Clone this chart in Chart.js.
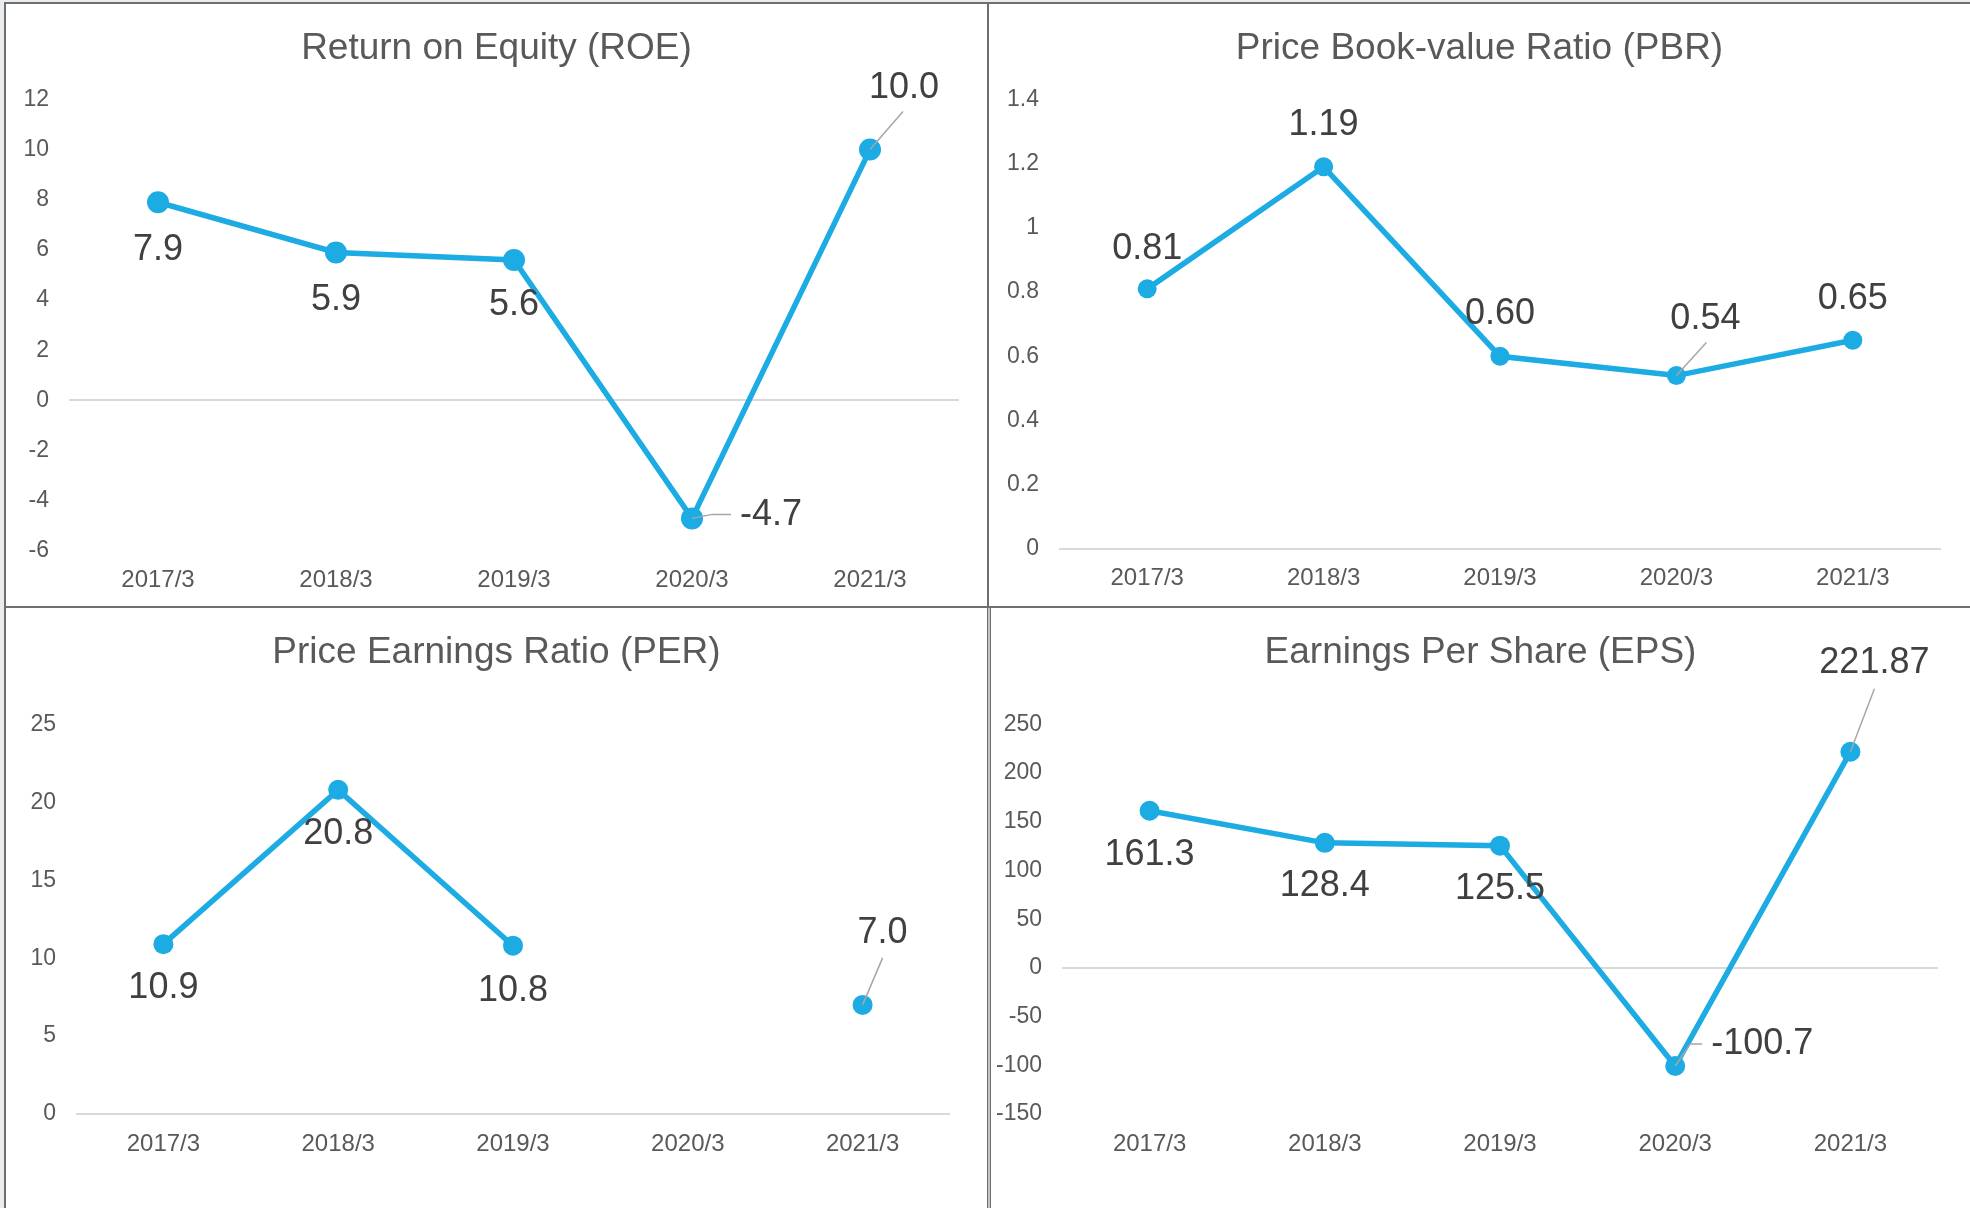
<!DOCTYPE html>
<html>
<head>
<meta charset="utf-8">
<script src="https://cdn.jsdelivr.net/npm/chart.js@4.4.1/dist/chart.umd.min.js"></script>
<style>
  html, body { margin: 0; padding: 0; }
  body { width: 1970px; height: 1208px; background: #e9edf0; position: relative; overflow: hidden; font-family: "Liberation Sans", Arial, sans-serif; }
  .sheet { position: absolute; left: 4px; top: 2px; right: 0; bottom: 0; background: #fff; }
  .rule { position: absolute; background: #6e6e6e; }
  .box { position: absolute; }
</style>
</head>
<body>
<div class="sheet"></div>
<div class="rule" style="left:4px;top:2px;width:2px;height:1206px"></div>
<div class="rule" style="left:4px;top:2px;width:1966px;height:2px"></div>
<div class="rule" style="left:987px;top:2px;width:2px;height:605px"></div>
<div class="rule" style="left:4px;top:606px;width:1966px;height:2px"></div>
<div class="rule" style="left:987px;top:606px;width:1px;height:602px"></div>
<div class="rule" style="left:988px;top:608px;width:2px;height:600px;background:#c4c4c4"></div>
<div class="rule" style="left:990px;top:606px;width:1px;height:602px"></div>

<div class="box" style="left:6px;top:4px;width:981px;height:602px"><canvas id="roeChart"></canvas></div>
<div class="box" style="left:989px;top:4px;width:981px;height:602px"><canvas id="pbrChart"></canvas></div>
<div class="box" style="left:6px;top:608px;width:981px;height:600px"><canvas id="perChart"></canvas></div>
<div class="box" style="left:991px;top:608px;width:979px;height:600px"><canvas id="epsChart"></canvas></div>

<script>
const categories = ['2017/3', '2018/3', '2019/3', '2020/3', '2021/3'];

const roeValues = [7.9, 5.9, 5.6, -4.7, 10.0];
const pbrValues = [0.81, 1.19, 0.60, 0.54, 0.65];
const perValues = [10.9, 20.8, 10.8, null, 7.0];
const epsValues = [161.3, 128.4, 125.5, -100.7, 221.87];

const roeTicks = [-6, -4, -2, 0, 2, 4, 6, 8, 10, 12];
const pbrTicks = [0, 0.2, 0.4, 0.6, 0.8, 1, 1.2, 1.4];
const perTicks = [0, 5, 10, 15, 20, 25];
const epsTicks = [-150, -100, -50, 0, 50, 100, 150, 200, 250];

const LINE_COLOR = '#1cabe2';
const FONT = '"Liberation Sans", Arial, sans-serif';

// draws the value labels and the little grey leader lines
const valueLabels = {
  id: 'valueLabels',
  afterDatasetsDraw(chart, args, opts) {
    const ctx = chart.ctx;
    const meta = chart.getDatasetMeta(0);
    const data = chart.data.datasets[0].data;
    ctx.save();
    meta.data.forEach((pt, i) => {
      const v = data[i];
      if (v === null || v === undefined) return;
      const lead = opts.leaders[i];
      if (lead) {
        ctx.strokeStyle = '#a6a6a6';
        ctx.lineWidth = 1.5;
        ctx.beginPath();
        ctx.moveTo(pt.x, pt.y);
        lead.forEach(p => ctx.lineTo(pt.x + p[0], pt.y + p[1]));
        ctx.stroke();
      }
      const off = opts.offsets[i];
      ctx.fillStyle = '#404040';
      ctx.font = '36px ' + FONT;
      ctx.textAlign = 'center';
      ctx.textBaseline = 'middle';
      ctx.fillText(opts.format(v), pt.x + off[0], pt.y + off[1]);
    });
    ctx.restore();
  }
};

function buildChart(id, cfg) {
  const ctx = document.getElementById(id).getContext('2d');
  const ticks = cfg.ticks;
  return new Chart(ctx, {
    type: 'line',
    data: {
      labels: categories,
      datasets: [{
        data: cfg.values,
        borderColor: LINE_COLOR,
        backgroundColor: LINE_COLOR,
        borderWidth: 5.5,
        pointRadius: cfg.pointRadius,
        pointBorderWidth: 0,
        pointBackgroundColor: LINE_COLOR,
        tension: 0,
        spanGaps: false
      }]
    },
    options: {
      responsive: true,
      maintainAspectRatio: false,
      animation: false,
      layout: { padding: 0 },
      plugins: {
        legend: { display: false },
        tooltip: { enabled: false },
        title: {
          display: true,
          text: cfg.title,
          color: '#595959',
          font: { family: FONT, size: 37, weight: 'normal' },
          padding: { top: cfg.titleTop, bottom: cfg.titleBottom }
        },
        valueLabels: {
          format: cfg.format,
          offsets: cfg.offsets,
          leaders: cfg.leaders
        }
      },
      scales: {
        x: {
          offset: true,
          grid: { display: false },
          border: { display: false },
          ticks: { color: '#595959', font: { family: FONT, size: 24 }, padding: cfg.xPad, maxRotation: 0 },
          afterFit: s => { s.height = cfg.xHeight; }
        },
        y: {
          min: ticks[0],
          max: ticks[ticks.length - 1],
          border: { display: false },
          grid: {
            drawTicks: false,
            lineWidth: 2,
            color: c => (c.tick && c.tick.value === 0) ? '#d9d9d9' : 'rgba(0,0,0,0)'
          },
          ticks: {
            stepSize: ticks[1] - ticks[0],
            color: '#595959',
            font: { family: FONT, size: 23 },
            padding: 20,
            callback: v => String(Math.round(v * 100) / 100)
          },
          afterFit: s => { s.width = cfg.yWidth; }
        },
        // empty right-hand axis: keeps the plot off the right edge, title stays centred
        yRight: {
          position: 'right',
          border: { display: false },
          grid: { display: false },
          ticks: { display: false },
          afterFit: s => { s.width = cfg.padRight; }
        }
      }
    },
    plugins: [valueLabels]
  });
}

buildChart('roeChart', {
  title: 'Return on Equity (ROE)',
  values: roeValues,
  ticks: roeTicks,
  pointRadius: 11,
  format: v => v.toFixed(1),
  offsets: [[0, 48], [0, 48], [0, 45], [79, -3], [34, -61]],
  leaders: [null, null, null, [[20, -4], [39, -4]], [[33, -38]]],
  padRight: 28, yWidth: 63, titleTop: 23, titleBottom: 28, xHeight: 55, xPad: 6.5
});

buildChart('pbrChart', {
  title: 'Price Book-value Ratio (PBR)',
  values: pbrValues,
  ticks: pbrTicks,
  pointRadius: 9.5,
  format: v => v.toFixed(2),
  offsets: [[0, -40], [0, -42], [0, -42], [29, -57], [0, -41]],
  leaders: [null, null, null, [[30, -33]], null],
  padRight: 29, yWidth: 70, titleTop: 23, titleBottom: 28, xHeight: 57, xPad: 6.5
});

buildChart('perChart', {
  title: 'Price Earnings Ratio (PER)',
  values: perValues,
  ticks: perTicks,
  pointRadius: 10,
  format: v => v.toFixed(1),
  offsets: [[0, 44], [0, 44], [0, 45], [0, 0], [20, -72]],
  leaders: [null, null, null, null, [[20, -47]]],
  padRight: 37, yWidth: 70, titleTop: 23, titleBottom: 49, xHeight: 94, xPad: 8
});

buildChart('epsChart', {
  title: 'Earnings Per Share (EPS)',
  values: epsValues,
  ticks: epsTicks,
  pointRadius: 10,
  format: v => String(v),
  offsets: [[0, 44], [0, 43], [0, 43], [87, -22], [24, -89]],
  leaders: [null, null, null, [[15, -22], [27, -22]], [[24, -63]]],
  padRight: 32, yWidth: 71, titleTop: 23, titleBottom: 49, xHeight: 94, xPad: 8
});
</script>
</body>
</html>
